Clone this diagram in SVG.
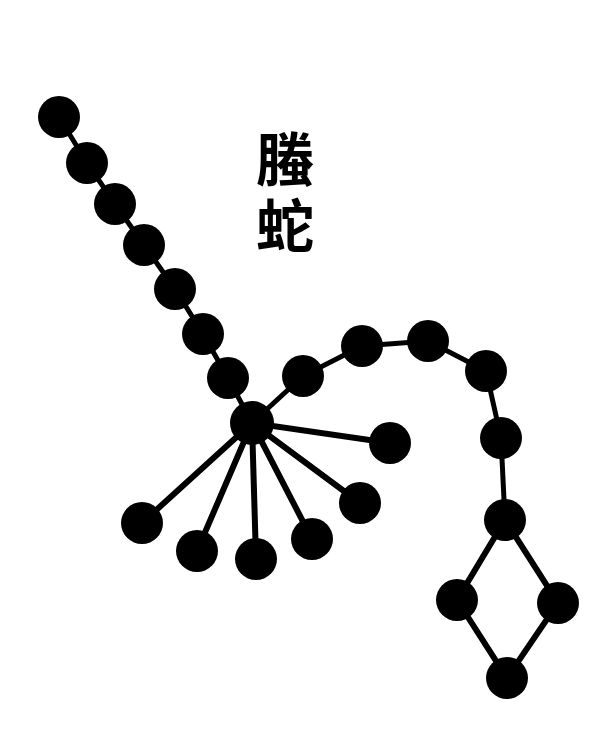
<svg xmlns="http://www.w3.org/2000/svg" width="609" height="733" viewBox="0 0 609 733">
<style>
.n{fill:#000}
.e{stroke:#000;stroke-width:6;stroke-linecap:round;fill:none}
.c{stroke-width:5}
.t{font-family:"Noto Sans CJK SC","Noto Sans CJK TC",sans-serif;font-weight:bold;font-size:58px;fill:#000;writing-mode:vertical-rl;letter-spacing:9px}
</style>
<rect width="609" height="733" fill="#fff"/>
<g id="connectors" class="e">
<polyline class="c" points="59,117 87,163 115,204 144,245 175,289 203,334 228,378 252,423"/>
<polyline class="c" points="252,423 303,376 362,346 428,341 486,371 501,438 505,520"/>
<polyline points="505,520 457,600 507,678 558,603 505,520"/>
<line x1="252" y1="423" x2="390" y2="443"/>
<line x1="252" y1="423" x2="360" y2="503"/>
<line x1="252" y1="423" x2="312" y2="539"/>
<line x1="252" y1="423" x2="256" y2="559"/>
<line x1="252" y1="423" x2="197" y2="551"/>
<line x1="252" y1="423" x2="142" y2="523"/>
</g>
<g id="label"><text class="t" x="285" y="130">螣蛇</text></g>
<g id="n1"><circle class="n" cx="59" cy="117" r="21"/></g>
<g id="n2"><circle class="n" cx="87" cy="163" r="21"/></g>
<g id="n3"><circle class="n" cx="115" cy="204" r="21"/></g>
<g id="n4"><circle class="n" cx="144" cy="245" r="21"/></g>
<g id="n5"><circle class="n" cx="175" cy="289" r="21"/></g>
<g id="n6"><circle class="n" cx="203" cy="334" r="21"/></g>
<g id="n7"><circle class="n" cx="228" cy="378" r="21"/></g>
<g id="hub"><circle class="n" cx="252" cy="423" r="22"/></g>
<g id="s1"><circle class="n" cx="390" cy="443" r="21"/></g>
<g id="s2"><circle class="n" cx="360" cy="503" r="21"/></g>
<g id="s3"><circle class="n" cx="312" cy="539" r="21"/></g>
<g id="s4"><circle class="n" cx="256" cy="559" r="21"/></g>
<g id="s5"><circle class="n" cx="197" cy="551" r="21"/></g>
<g id="s6"><circle class="n" cx="142" cy="523" r="21"/></g>
<g id="c1"><circle class="n" cx="303" cy="376" r="21"/></g>
<g id="c2"><circle class="n" cx="362" cy="346" r="21"/></g>
<g id="c3"><circle class="n" cx="428" cy="341" r="21"/></g>
<g id="c4"><circle class="n" cx="486" cy="371" r="21"/></g>
<g id="c5"><circle class="n" cx="501" cy="438" r="21"/></g>
<g id="d1"><circle class="n" cx="505" cy="520" r="21"/></g>
<g id="d2"><circle class="n" cx="457" cy="600" r="21"/></g>
<g id="d3"><circle class="n" cx="558" cy="603" r="21"/></g>
<g id="d4"><circle class="n" cx="507" cy="678" r="21"/></g>
</svg>
